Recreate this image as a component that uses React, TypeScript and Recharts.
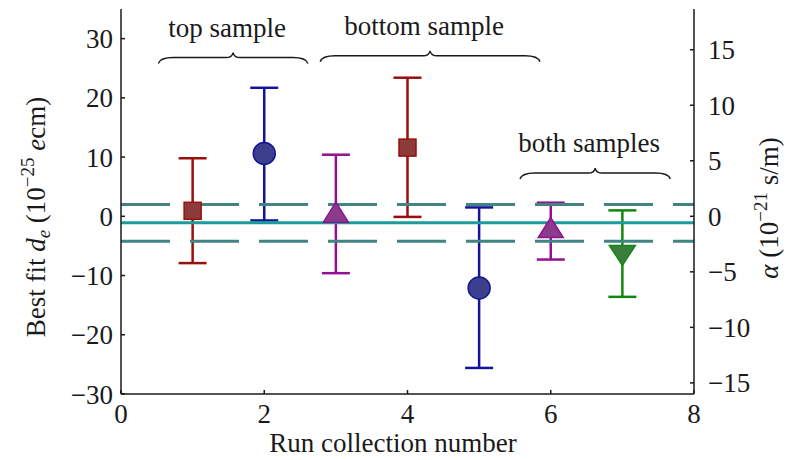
import { ScatterChart, Scatter, XAxis, YAxis, ErrorBar, ReferenceLine } from 'recharts'

// run number, best fit d_e and the ends of its error bar (units of 1e-25 e cm)
const runs = [1, 2, 3, 4, 5, 6, 7]
const fits = [0.93, 10.6, 0.7, 11.6, -12.1, -1.9, -6.6]
const highs = [9.8, 21.7, 10.4, 23.4, 1.5, 2.3, 1.0]
const lows = [-7.9, -0.7, -9.6, -0.1, -25.6, -7.3, -13.6]
const groupOf = ['red', 'blue', 'purple', 'red', 'blue', 'purple', 'green']

// combined fit and its one sigma band
const meanFit = -1.1
const bandHigh = 2.0
const bandLow = -4.2

const xTicks = [0, 2, 4, 6, 8]
const deTicks = [-30, -20, -10, 0, 10, 20, 30]
const alphaTicks = [-15, -10, -5, 0, 5, 10, 15]

const braceLabels = ['top sample', 'bottom sample', 'both samples']
const braceFrom = [0.52, 2.78, 5.57]
const braceTo = [2.61, 5.85, 7.67]
const braceLevel = [26.8, 27.1, 7.3]

const DE_DOMAIN: [number, number] = [-30, 35]
const ALPHA_PER_DE = 1.875
const FONT = "'Liberation Serif', 'Times New Roman', 'DejaVu Serif', serif"
const INK = '#1a1a1a'

const STYLES: Record<string, { edge: string; fill: string; shape: string }> = {
  red: { edge: '#9a0e0e', fill: '#8c3b3b', shape: 'square' },
  blue: { edge: '#14149a', fill: '#3c3f8c', shape: 'circle' },
  purple: { edge: '#930f93', fill: '#8a3c8a', shape: 'up' },
  green: { edge: '#10880f', fill: '#3c7c3c', shape: 'down' },
}

const minus = (v: number) => String(v).replace('-', '\u2212')

function Marker({ cx, cy, edge, fill, shape }: any) {
  if (shape === 'square') {
    return <rect x={cx - 8.5} y={cy - 8.5} width={17} height={17} fill={fill} stroke={edge} strokeWidth={1.5} />
  }
  if (shape === 'circle') {
    return <circle cx={cx} cy={cy} r={11} fill={fill} stroke={edge} strokeWidth={1.5} />
  }
  if (shape === 'up') {
    return (
      <polygon
        points={`${cx},${cy - 10} ${cx - 12.5},${cy + 10} ${cx + 12.5},${cy + 10}`}
        fill={fill}
        stroke={edge}
        strokeWidth={1.5}
      />
    )
  }
  return (
    <polygon
      points={`${cx - 13},${cy - 10} ${cx + 13},${cy - 10} ${cx},${cy + 10}`}
      fill={fill}
      stroke={edge}
      strokeWidth={1.5}
    />
  )
}

function braceShape(text: string) {
  return (props: any) => {
    const { x1, x2, y1 } = props
    const xm = (x1 + x2) / 2
    const y = y1
    const d = [
      `M ${x1} ${y + 6}`,
      `Q ${x1 + 2} ${y} ${x1 + 15} ${y}`,
      `L ${xm - 7} ${y}`,
      `Q ${xm - 1} ${y} ${xm} ${y - 5}`,
      `Q ${xm + 1} ${y} ${xm + 7} ${y}`,
      `L ${x2 - 15} ${y}`,
      `Q ${x2 - 2} ${y} ${x2} ${y + 6}`,
    ].join(' ')
    return (
      <g>
        <path d={d} fill="none" stroke={INK} strokeWidth={1.4} />
        <text x={xm - 6} y={y - 21} textAnchor="middle" fontFamily={FONT} fontSize={27} fill={INK}>
          {text}
        </text>
      </g>
    )
  }
}

function LeftTitle() {
  return (
    <text
      transform="translate(45 217) rotate(-90)"
      textAnchor="middle"
      fontFamily={FONT}
      fontSize={27}
      fill={INK}
    >
      Best fit <tspan fontStyle="italic">d</tspan>
      <tspan fontStyle="italic" fontSize={19} dy={5}>e</tspan>
      <tspan dy={-5}> (10</tspan>
      <tspan fontSize={19} dy={-11}>{'\u221225'}</tspan>
      <tspan dy={11}> </tspan>
      <tspan fontStyle="italic">e</tspan>
      <tspan>cm)</tspan>
    </text>
  )
}

function RightTitle() {
  return (
    <text
      transform="translate(778 208) rotate(-90)"
      textAnchor="middle"
      fontFamily={FONT}
      fontSize={27}
      fill={INK}
    >
      <tspan fontStyle="italic">{'\u03b1'}</tspan>
      <tspan> (10</tspan>
      <tspan fontSize={19} dy={-11}>{'\u221221'}</tspan>
      <tspan dy={11}> s/m)</tspan>
    </text>
  )
}

function BottomTitle() {
  return (
    <text x={393} y={452} textAnchor="middle" fontFamily={FONT} fontSize={27} fill={INK}>
      Run collection number
    </text>
  )
}

export default function App() {
  const points = runs.map((run, i) => ({
    run,
    value: fits[i],
    err: [fits[i] - lows[i], highs[i] - fits[i]],
    group: groupOf[i],
  }))
  const groups = ['red', 'blue', 'purple', 'green']
  const tickStyle = { fontFamily: FONT, fontSize: 27, fill: INK }
  const axisLine = { stroke: INK, strokeWidth: 1.5 }
  const tickLine = { stroke: INK, strokeWidth: 1.5 }

  return (
    <div style={{ position: 'absolute', left: 0, top: 0, width: 794, height: 460, background: '#fff', fontFamily: FONT }}>
      <ScatterChart width={794} height={460} margin={{ top: 9, right: 40, bottom: 26, left: 61 }}>
        <XAxis
          type="number"
          dataKey="run"
          domain={[0, 8]}
          ticks={xTicks}
          axisLine={axisLine}
          tickLine={tickLine}
          tickSize={-4}
          tickMargin={14}
          tick={tickStyle}
          height={40}
          label={<BottomTitle />}
        />
        <YAxis
          yAxisId="de"
          type="number"
          dataKey="value"
          domain={DE_DOMAIN}
          ticks={deTicks}
          allowDataOverflow
          axisLine={axisLine}
          tickLine={tickLine}
          tickSize={-4}
          tickMargin={12}
          tick={tickStyle}
          tickFormatter={minus}
          width={60}
          label={<LeftTitle />}
        />
        <YAxis
          yAxisId="alpha"
          orientation="right"
          type="number"
          domain={[DE_DOMAIN[0] / ALPHA_PER_DE, DE_DOMAIN[1] / ALPHA_PER_DE]}
          ticks={alphaTicks}
          allowDataOverflow
          axisLine={axisLine}
          tickLine={tickLine}
          tickSize={-4}
          tickMargin={18}
          tick={tickStyle}
          tickFormatter={minus}
          width={60}
          label={<RightTitle />}
        />
        {groups.map((g) => (
          <Scatter
            key={g}
            yAxisId="de"
            data={points.filter((p) => p.group === g)}
            dataKey="value"
            isAnimationActive={false}
            shape={(p: any) => <Marker cx={p.cx} cy={p.cy} {...STYLES[g]} />}
          >
            <ErrorBar dataKey="err" direction="y" width={14} stroke={STYLES[g].edge} strokeWidth={2.5} />
          </Scatter>
        ))}
        <ReferenceLine yAxisId="de" y={bandHigh} stroke="#428383" strokeWidth={3} strokeDasharray="49 20" />
        <ReferenceLine yAxisId="de" y={bandLow} stroke="#428383" strokeWidth={3} strokeDasharray="49 20" />
        <ReferenceLine yAxisId="de" y={meanFit} stroke="#1c9b9b" strokeWidth={3} />
        {braceLabels.map((text, i) => (
          <ReferenceLine
            key={text}
            yAxisId="de"
            segment={[
              { x: braceFrom[i], y: braceLevel[i] },
              { x: braceTo[i], y: braceLevel[i] },
            ]}
            shape={braceShape(text)}
          />
        ))}
      </ScatterChart>
    </div>
  )
}
